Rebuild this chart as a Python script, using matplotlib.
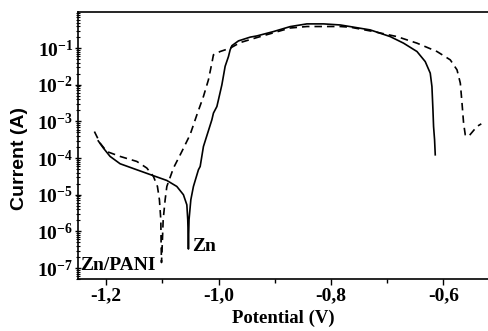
import numpy as np
import matplotlib
matplotlib.use("Agg")
import matplotlib.pyplot as plt
from matplotlib.ticker import FixedLocator, LogLocator, NullFormatter

plt.rcParams["font.family"] = "Liberation Serif"
plt.rcParams["font.weight"] = "bold"
plt.rcParams["mathtext.fontset"] = "custom"
plt.rcParams["mathtext.rm"] = "Liberation Serif:bold"
plt.rcParams["mathtext.it"] = "Liberation Serif:bold"
plt.rcParams["mathtext.bf"] = "Liberation Serif:bold"
plt.rcParams["axes.unicode_minus"] = False

# Zn (solid)
zn_potential = [-1.214, -1.2048, -1.1929, -1.1751, -1.1454, -1.1158, -1.092, -1.0742,
                -1.0625, -1.0564, -1.0548, -1.0540, -1.0536, -1.0532, -1.0525, -1.0493,
                -1.0447, -1.0358, -1.0327, -1.0269, -1.018, -1.0119, -1.0091, -1.003,
                -1.0002, -0.9941, -0.9883, -0.9824, -0.9794, -0.9763, -0.9646, -0.9438,
                -0.9318, -0.9023, -0.8726, -0.8429, -0.8133, -0.7836, -0.7658, -0.7302,
                -0.6947, -0.671, -0.6471, -0.6324, -0.6235, -0.6205, -0.6187, -0.6176,
                -0.6158, -0.6146]
zn_current = [2.95e-4, 1.87e-4, 1.11e-4, 7.0e-5, 4.8e-5, 3.3e-5, 2.45e-5, 1.68e-5,
              1.0e-5, 5.3e-6, 2.1e-6, 7.9e-7, 3.3e-7, 7.9e-7, 2.1e-6, 7.3e-6,
              1.68e-5, 4.8e-5, 5.9e-5, 2.07e-4, 5.6e-4, 1.11e-3, 1.69e-3, 2.55e-3,
              3.9e-3, 1.0e-2, 3.2e-2, 5.9e-2, 9.0e-2, 0.117, 0.158, 0.20,
              0.216, 0.284, 0.388, 0.46, 0.46, 0.43, 0.388, 0.315,
              0.207, 0.137, 8.1e-2, 4.3e-2, 2.08e-2, 8.97e-3, 2.07e-3, 7.3e-4,
              3.15e-4, 1.23e-4]

# Zn/PANI (dashed)
pani_potential = [-1.2208, -1.2107, -1.1988, -1.1751, -1.1454, -1.1276, -1.1158, -1.1087,
                  -1.1052, -1.1027, -1.1022, -1.1015, -1.1000, -1.0985, -1.095, -1.092,
                  -1.0802, -1.0653, -1.0505, -1.0386, -1.0269, -1.018, -1.0119, -1.0091,
                  -0.9972, -0.9794, -0.9616, -0.9318, -0.9023, -0.8726, -0.8429, -0.8133,
                  -0.7836, -0.7658, -0.7243, -0.6827, -0.6471, -0.6115, -0.5879, -0.5759,
                  -0.570, -0.567, -0.5642, -0.5612, -0.5553, -0.5404, -0.5327]
pani_current = [5.3e-4, 2.56e-4, 1.51e-4, 1.11e-4, 8.1e-5, 5.35e-5, 3.15e-5, 1.68e-5,
                7.3e-6, 2.08e-6, 5.0e-7, 1.41e-7, 5.0e-7, 2.08e-6, 7.3e-6, 1.68e-5,
                5.35e-5, 1.51e-4, 4.4e-4, 1.51e-3, 4.8e-3, 1.37e-2, 3.9e-2, 6.6e-2,
                8.1e-2, 0.1, 0.142, 0.195, 0.263, 0.355, 0.39, 0.39,
                0.39, 0.374, 0.284, 0.207, 0.137, 8.1e-2, 4.8e-2, 2.56e-2,
                1.11e-2, 3.16e-3, 9.0e-4, 4.3e-4, 3.9e-4, 7.3e-4, 8.6e-4]

x_ticks = [-1.2, -1.0, -0.8, -0.6]
x_tick_labels = ["-1,2", "-1,0", "-0,8", "-0,6"]
y_ticks = [1e-7, 1e-6, 1e-5, 1e-4, 1e-3, 1e-2, 1e-1]
y_tick_labels = [r"$10^{-7}$", r"$10^{-6}$", r"$10^{-5}$", r"$10^{-4}$",
                 r"$10^{-3}$", r"$10^{-2}$", r"$10^{-1}$"]

fig = plt.figure(figsize=(4.89, 3.31), dpi=100)
ax = fig.add_axes([0.1595, 0.157, 0.8405, 0.8067])

ax.plot(zn_potential, zn_current, color="black", lw=1.2)
ax.plot(pani_potential, pani_current, color="black", lw=1.2, ls=(0, (4.5, 3)))

ax.set_yscale("log")
ax.set_xlim(-1.25, -0.519)
ax.set_ylim(5e-8, 0.97)

ax.set_xticks(x_ticks)
ax.set_xticklabels(x_tick_labels, fontsize=14, fontweight="bold")
ax.xaxis.set_minor_locator(FixedLocator([-1.1, -0.9, -0.7]))
ax.set_yticks(y_ticks)
ax.set_yticklabels(y_tick_labels, fontsize=14)
ax.yaxis.set_minor_locator(LogLocator(base=10, subs=np.arange(2, 10), numticks=20))
ax.yaxis.set_minor_formatter(NullFormatter())

ax.tick_params(axis="x", which="major", direction="out", length=4, width=1, pad=2)
ax.tick_params(axis="x", which="minor", direction="out", length=3, width=1)
ax.tick_params(axis="y", which="major", direction="inout", length=5, width=1, pad=1)
ax.tick_params(axis="y", which="minor", direction="inout", length=3.5, width=0.8)

ax.spines["right"].set_visible(False)
for s in ["left", "top", "bottom"]:
    ax.spines[s].set_linewidth(1.2)

ax.set_xlabel("Potential (V)", fontsize=13.5, fontweight="bold", labelpad=4)
ax.set_ylabel("Current (A)", fontsize=14, fontweight="bold", family="Liberation Sans")
ax.yaxis.set_label_coords(-0.122, 0.45)

ax.text(-1.2463, 9e-8, "Zn/PANI", fontsize=14, fontweight="bold", va="baseline")
ax.text(-1.047, 3.0e-7, "Zn", fontsize=14, fontweight="bold", va="baseline")

fig.savefig("out.png", dpi=100)
